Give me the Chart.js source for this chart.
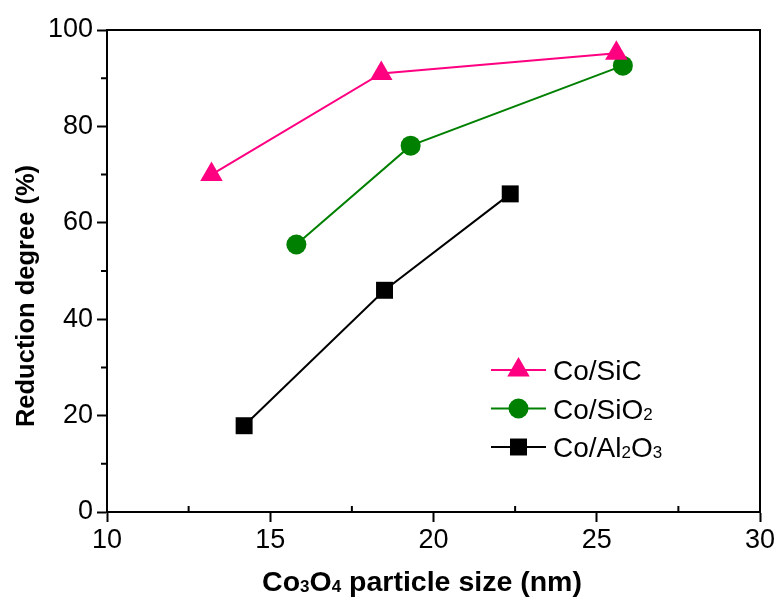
<!DOCTYPE html>
<html>
<head>
<meta charset="utf-8">
<script src="https://cdn.jsdelivr.net/npm/chart.js@4/dist/chart.umd.min.js"></script>
<style>
  body { margin: 0; background: #fff; }
  canvas { display: block; }
</style>
</head>
<body>
<canvas id="grafico" width="779" height="597"></canvas>
<script>
// particle size (nm) and reduction degree (%) per support
var SIC_SIZE = [13.2, 18.4, 25.6];
var SIC_RED = [70, 91, 95.2];
var SIO2_SIZE = [15.8, 19.3, 25.8];
var SIO2_RED = [55.5, 76, 92.6];
var AL2O3_SIZE = [14.2, 18.5, 22.35];
var AL2O3_RED = [17.9, 46, 66];
var X_TICKS = [10, 15, 20, 25, 30];
var Y_TICKS = [0, 20, 40, 60, 80, 100];

var Cores = { 'rosa': 'rgb(255, 0, 128)', 'verde': 'rgb(0, 128, 0)', 'preto': '#000' };

function pontos(xs, ys) {
    return xs.map(function (x, i) { return { x: x, y: ys[i] }; });
}

// legend rows: label pieces (sub = subscript), colour, marker
var legenda = [
    { partes: [{ t: 'Co/SiC' }], cor: Cores.rosa, estilo: 'triangle', raio: 13 },
    { partes: [{ t: 'Co/SiO' }, { t: '2', sub: true }], cor: Cores.verde, estilo: 'circle', raio: 10 },
    { partes: [{ t: 'Co/Al' }, { t: '2', sub: true }, { t: 'O' }, { t: '3', sub: true }], cor: Cores.preto, estilo: 'rect', raio: 12 }
];

// draws text made of normal and subscript pieces, starting at x (left) on baseline y
function textoRico(ctx, partes, x, y, tam, peso) {
    partes.forEach(function (p) {
        var t = p.sub ? Math.round(tam * 0.6) : tam;
        ctx.font = peso + ' ' + t + 'px "Liberation Sans", Arial, sans-serif';
        ctx.fillText(p.t, x, y + (p.sub ? 1 : 0));
        x += ctx.measureText(p.t).width;
    });
    return x;
}
function larguraRica(ctx, partes, tam, peso) {
    return partes.reduce(function (soma, p) {
        var t = p.sub ? Math.round(tam * 0.6) : tam;
        ctx.font = peso + ' ' + t + 'px "Liberation Sans", Arial, sans-serif';
        return soma + ctx.measureText(p.t).width;
    }, 0);
}

var extras = {
    id: 'extras',
    afterDraw: function (chart) {
        var ctx = chart.ctx;
        var a = chart.chartArea;
        var sx = chart.scales.x, sy = chart.scales.y;
        ctx.save();
        ctx.strokeStyle = '#000';
        ctx.lineWidth = 2;
        // top and right frame
        ctx.beginPath();
        ctx.moveTo(a.left, a.top);
        ctx.lineTo(a.right, a.top);
        ctx.lineTo(a.right, a.bottom);
        ctx.stroke();
        // minor ticks: inside on x, outside on y
        ctx.beginPath();
        for (var v = 12.5; v < 30; v += 5) {
            var px = sx.getPixelForValue(v);
            ctx.moveTo(px, a.bottom);
            ctx.lineTo(px, a.bottom - 6);
        }
        for (var w = 10; w < 100; w += 20) {
            var py = sy.getPixelForValue(w);
            ctx.moveTo(a.left, py);
            ctx.lineTo(a.left - 6, py);
        }
        ctx.stroke();

        // legend
        ctx.fillStyle = '#000';
        ctx.textBaseline = 'alphabetic';
        ctx.textAlign = 'left';
        legenda.forEach(function (item, i) {
            var y = 370 + i * 38.5;
            ctx.strokeStyle = item.cor;
            ctx.lineWidth = 2;
            ctx.beginPath();
            ctx.moveTo(491, y);
            ctx.lineTo(546, y);
            ctx.stroke();
            ctx.fillStyle = item.cor;
            Chart.helpers.drawPoint(ctx, { pointStyle: item.estilo, radius: item.raio, rotation: 0, borderWidth: 0 }, 518.5, y);
            ctx.fillStyle = '#000';
            textoRico(ctx, item.partes, 553, y + 10, 28, 'normal');
        });

        // axis titles
        var titX = [{ t: 'Co' }, { t: '3', sub: true }, { t: 'O' }, { t: '4', sub: true }, { t: ' particle size (nm)' }];
        var lx = larguraRica(ctx, titX, 28.5, 'bold');
        textoRico(ctx, titX, 422 - lx / 2, 591, 28.5, 'bold');

        ctx.translate(34, 296);
        ctx.rotate(-Math.PI / 2);
        ctx.font = 'bold 25.5px "Liberation Sans", Arial, sans-serif';
        ctx.textAlign = 'center';
        ctx.fillText('Reduction degree (%)', 0, 0);
        ctx.restore();
    }
};

var fonteTicks = { family: '"Liberation Sans", Arial, sans-serif', size: 27 };

var ctx = document.getElementById('grafico').getContext('2d');
window.RLGrafico = new Chart(ctx, {
    type: 'line',
    data: {
        datasets: [{
            label: 'Co/SiC',
            data: pontos(SIC_SIZE, SIC_RED),
            borderColor: Cores.rosa,
            backgroundColor: Cores.rosa,
            borderWidth: 2,
            pointStyle: 'triangle',
            pointRadius: 13,
            pointBorderWidth: 0
        }, {
            label: 'Co/SiO2',
            data: pontos(SIO2_SIZE, SIO2_RED),
            borderColor: Cores.verde,
            backgroundColor: Cores.verde,
            borderWidth: 2,
            pointStyle: 'circle',
            pointRadius: 10,
            pointBorderWidth: 0
        }, {
            label: 'Co/Al2O3',
            data: pontos(AL2O3_SIZE, AL2O3_RED),
            borderColor: Cores.preto,
            backgroundColor: Cores.preto,
            borderWidth: 2,
            pointStyle: 'rect',
            pointRadius: 12,
            pointBorderWidth: 0
        }]
    },
    options: {
        responsive: false,
        animation: false,
        layout: { padding: { top: 30, right: 19, left: 0, bottom: 0 } },
        plugins: {
            legend: { display: false },
            tooltip: { enabled: false }
        },
        scales: {
            x: {
                type: 'linear',
                min: X_TICKS[0],
                max: X_TICKS[X_TICKS.length - 1],
                afterFit: function (eixo) { eixo.height = 85; },
                border: { color: '#000', width: 2 },
                grid: { drawOnChartArea: false, drawTicks: true, tickLength: 10, tickWidth: 2, tickColor: '#000' },
                afterBuildTicks: function (eixo) { eixo.ticks = X_TICKS.map(function (v) { return { value: v }; }); },
                ticks: { color: '#000', font: fonteTicks, padding: 2, maxRotation: 0 }
            },
            y: {
                min: Y_TICKS[0],
                max: Y_TICKS[Y_TICKS.length - 1],
                afterFit: function (eixo) { eixo.width = 107; },
                border: { color: '#000', width: 2 },
                grid: { drawOnChartArea: false, drawTicks: true, tickLength: 10, tickWidth: 2, tickColor: '#000' },
                afterBuildTicks: function (eixo) { eixo.ticks = Y_TICKS.map(function (v) { return { value: v }; }); },
                ticks: { color: '#000', font: fonteTicks, padding: 4 }
            }
        }
    },
    plugins: [extras]
});
</script>
</body>
</html>
